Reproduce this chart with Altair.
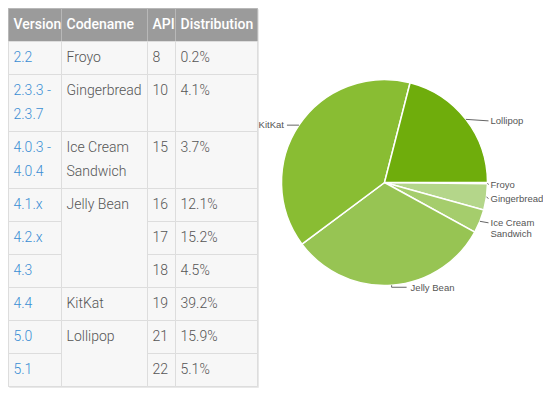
import math
import altair as alt
import pandas as pd

# ---------------- data ----------------
headers = ["Version", "Codename", "API", "Distribution"]
versions = ["2.2", "2.3.3 -\n2.3.7", "4.0.3 -\n4.0.4", "4.1.x", "4.2.x", "4.3", "4.4", "5.0", "5.1"]
row_codenames = ["Froyo", "Gingerbread", "Ice Cream\nSandwich", "Jelly Bean", "Jelly Bean",
                 "Jelly Bean", "KitKat", "Lollipop", "Lollipop"]
apis = [8, 10, 15, 16, 17, 18, 19, 21, 22]
distribution = [0.2, 4.1, 3.7, 12.1, 15.2, 4.5, 39.2, 15.9, 5.1]

codenames = ["Froyo", "Gingerbread", "Ice Cream\nSandwich", "Jelly Bean", "KitKat", "Lollipop"]
pie_colors = ["#c4df9b", "#b4d68a", "#a5cd6c", "#97c453", "#89bd33", "#6fad0c"]

# ---------------- layout / style ----------------
W, H = 535, 380
COL_X = [0, 53, 139, 167, 249]
HEADER_H = 33
ROW_H = 33
LINE_H = 24
PAD_X = 5
TEXT_DY = 16
CX, CY, R = 376, 174, 103
LABEL_GAP = 3
HEADER_FILL = "#9b9b9b"
HEADER_LINE = "#b8b8b8"
BODY_FILL = "#f7f7f7"
BODY_LINE = "#dddddd"
TEXT_GRAY = "#555555"
LINK_BLUE = "#3b8ed4"
TABLE_FONT = "Roboto"
LABEL_FONT = "Liberation Sans"
LABEL_SIZE = 9.5

# row geometry derived from line counts
n_lines = [max(v.count("\n"), c.count("\n")) + 1 for v, c in zip(versions, row_codenames)]
heights = [ROW_H + LINE_H * (n - 1) for n in n_lines]
tops = []
acc = HEADER_H
for h in heights:
    tops.append(acc)
    acc += h
table_bottom = acc

# cells
cells = []
for j in range(4):
    cells.append(dict(x=COL_X[j], x2=COL_X[j + 1], y=0, y2=HEADER_H, fill=HEADER_FILL, stroke=HEADER_LINE))
for i in range(len(versions)):
    for j in (0, 2, 3):
        cells.append(dict(x=COL_X[j], x2=COL_X[j + 1], y=tops[i], y2=tops[i] + heights[i],
                          fill=BODY_FILL, stroke=BODY_LINE))
# merged codename cells
groups = []
for i, c in enumerate(row_codenames):
    if groups and groups[-1][0] == c:
        groups[-1][2] = i
    else:
        groups.append([c, i, i])
for c, a, b in groups:
    cells.append(dict(x=COL_X[1], x2=COL_X[2], y=tops[a], y2=tops[b] + heights[b],
                      fill=BODY_FILL, stroke=BODY_LINE))
cells_df = pd.DataFrame(cells)

frame_df = pd.DataFrame([
    dict(x=COL_X[0] + 1, x2=COL_X[-1] + 1, y=1, y2=table_bottom + 1, stroke="#e8e8e8"),
    dict(x=COL_X[0], x2=COL_X[-1], y=0, y2=table_bottom, stroke="#d4d4d4"),
])

# texts
header_txt = pd.DataFrame([dict(x=COL_X[j] + PAD_X, y=TEXT_DY, text=h) for j, h in enumerate(headers)])
link_rows, body_rows = [], []
for i in range(len(versions)):
    for k, line in enumerate(versions[i].split("\n")):
        link_rows.append(dict(x=COL_X[0] + PAD_X, y=tops[i] + TEXT_DY + k * LINE_H, text=line))
    body_rows.append(dict(x=COL_X[2] + PAD_X, y=tops[i] + TEXT_DY, text=str(apis[i])))
    body_rows.append(dict(x=COL_X[3] + PAD_X, y=tops[i] + TEXT_DY, text=f"{distribution[i]:.1f}%"))
for c, a, b in groups:
    for k, line in enumerate(c.split("\n")):
        body_rows.append(dict(x=COL_X[1] + PAD_X, y=tops[a] + TEXT_DY + k * LINE_H, text=line))
link_df = pd.DataFrame(link_rows)
body_df = pd.DataFrame(body_rows)

# pie data
shares = [round(sum(d for c, d in zip(row_codenames, distribution) if c == name), 1) for name in codenames]
pie_df = pd.DataFrame({"codename": codenames, "share": shares, "order": list(range(len(codenames)))})

# labels & leaders derived from slice mid-angles
total = sum(shares)
cum = 0.0
lab_left, lab_right = [], []
leader_pts = []
for name, s in zip(codenames, shares):
    a = 2 * math.pi * (cum + s / 2) / total
    cum += s
    ex, ey = CX + R * math.cos(a), CY + R * math.sin(a)
    c = math.cos(a)
    if c > 0.35:
        ly = ey + 1.5
        pts = [(ex, ey), (CX + R + LABEL_GAP - 2, ly)]
        for k, line in enumerate(name.split("\n")):
            lab_right.append(dict(x=CX + R + LABEL_GAP, y=ly + k * 11, text=line))
    elif c < -0.35:
        pts = [(ex, ey), (ex - 12, ey)]
        for k, line in enumerate(name.split("\n")):
            lab_left.append(dict(x=ex - 15, y=ey + k * 11, text=line))
    else:
        pts = [(ex, ey), (ex, ey + 2), (ex + 15, ey + 2)]
        for k, line in enumerate(name.split("\n")):
            lab_right.append(dict(x=ex + 19, y=ey + 3 + k * 11, text=line))
    for k, (px, py) in enumerate(pts):
        leader_pts.append(dict(name=name, k=k, x=px, y=py))
lab_left_df = pd.DataFrame(lab_left)
lab_right_df = pd.DataFrame(lab_right)
leader_df = pd.DataFrame(leader_pts)

# ---------------- chart ----------------
xs = alt.Scale(domain=[-0.5, W - 0.5], nice=False, zero=False)
ys = alt.Scale(domain=[H - 0.5, -0.5], nice=False, zero=False)
X = alt.X("x:Q", scale=xs, axis=None)
Y = alt.Y("y:Q", scale=ys, axis=None)

shadow = alt.Chart(frame_df).mark_rect(fill=None, strokeWidth=1).encode(
    x=X, x2="x2:Q", y=Y, y2="y2:Q", stroke=alt.Stroke("stroke:N", scale=None))
cell_layer = alt.Chart(cells_df).mark_rect(strokeWidth=1).encode(
    x=X, x2="x2:Q", y=Y, y2="y2:Q",
    fill=alt.Fill("fill:N", scale=None), stroke=alt.Stroke("stroke:N", scale=None))

header_layer = alt.Chart(header_txt).mark_text(
    align="left", baseline="middle", font=TABLE_FONT, fontSize=14, fontWeight=500, color="white"
).encode(x=X, y=Y, text="text:N")
link_layer = alt.Chart(link_df).mark_text(
    align="left", baseline="middle", font=TABLE_FONT, fontSize=14, fontWeight=300, color=LINK_BLUE
).encode(x=X, y=Y, text="text:N")
body_layer = alt.Chart(body_df).mark_text(
    align="left", baseline="middle", font=TABLE_FONT, fontSize=14, fontWeight=300, color=TEXT_GRAY
).encode(x=X, y=Y, text="text:N")

arc = alt.Chart(pie_df).mark_arc(outerRadius=R, stroke="white", strokeWidth=1.5).encode(
    theta=alt.Theta("share:Q", stack=True,
                    scale=alt.Scale(range=[math.pi / 2, math.pi / 2 + 2 * math.pi])),
    order=alt.Order("order:Q"),
    color=alt.Color("codename:N", scale=alt.Scale(domain=codenames, range=pie_colors), legend=None),
    x=alt.value(CX + 0.5),
    y=alt.value(CY + 0.5),
)

leaders = alt.Chart(leader_df).mark_line(color="#666666", strokeWidth=1).encode(
    x=X, y=Y, detail="name:N", order="k:Q")
lab_r = alt.Chart(lab_right_df).mark_text(
    align="left", baseline="middle", font=LABEL_FONT, fontSize=LABEL_SIZE, color=TEXT_GRAY
).encode(x=X, y=Y, text="text:N")
lab_l = alt.Chart(lab_left_df).mark_text(
    align="right", baseline="middle", font=LABEL_FONT, fontSize=LABEL_SIZE, color=TEXT_GRAY
).encode(x=X, y=Y, text="text:N")

chart = alt.layer(
    shadow, cell_layer, header_layer, link_layer, body_layer, arc, leaders, lab_r, lab_l
).properties(
    width=W, height=H, padding=0, autosize=alt.AutoSizeParams(type="none")
).configure_view(stroke=None)

chart.save("out.html", embed_options={"renderer": "svg", "actions": False})
